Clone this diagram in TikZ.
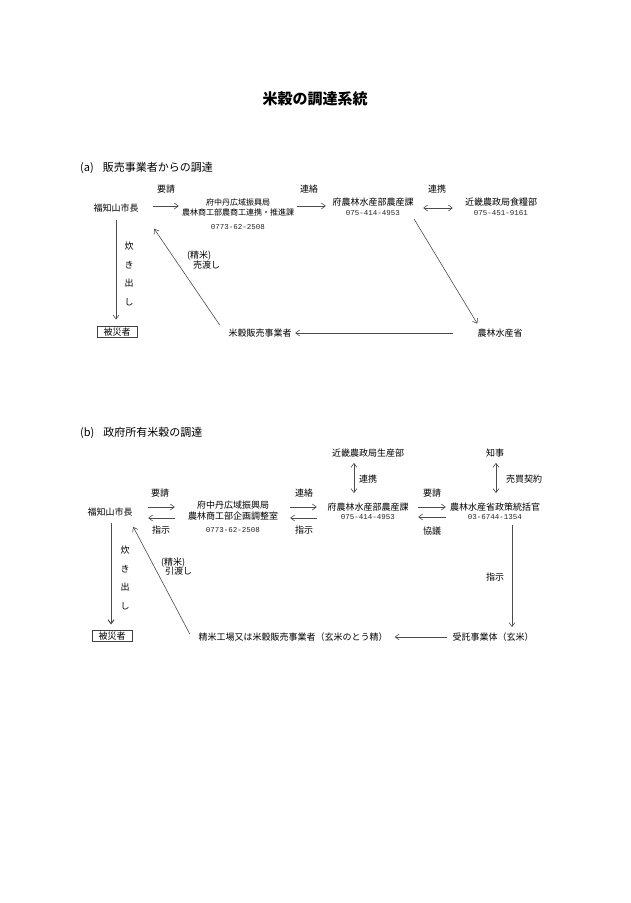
\documentclass[tikz,border=0pt]{standalone}
\usepackage{fontspec}
\setmainfont{Noto Sans CJK JP}
\newfontfamily\telfont{Liberation Mono}
\usetikzlibrary{arrows.meta}
\tikzset{
  lbl/.style={font=\fontsize{9}{11}\selectfont, inner sep=0pt, align=center, text=black},
  lblsm/.style={font=\fontsize{8}{10}\selectfont, inner sep=0pt, align=center, text=black},
  tel/.style={font=\telfont\fontsize{7.5}{9}\selectfont, inner sep=0pt, text=black!85},
  head/.style={font=\fontsize{11}{13}\selectfont, inner sep=0pt, anchor=west},
  vert/.style={font=\fontsize{9}{18.5}\selectfont, inner sep=0pt, align=center},
  arr/.style={-{Straight Barb[length=4pt,width=6pt]}, draw=black!70, line width=0.6pt},
  darr/.style={{Straight Barb[length=4pt,width=6pt]}-{Straight Barb[length=4pt,width=6pt]}, draw=black!70, line width=0.6pt},
  boxed/.style={draw=black!75, line width=0.7pt, inner xsep=6.5pt, inner ysep=1.5pt, font=\fontsize{9}{11}\selectfont}
}
\begin{document}
\begin{tikzpicture}[x=1pt,y=-1pt]
\useasboundingbox (0,0) rectangle (630,903);
\fill[white] (0,0) rectangle (630,903);

\node[font=\fontsize{15}{17}\selectfont\bfseries, inner sep=0pt] (title) at (315,99) {米穀の調達系統};

% ---------------- (a)
\node[head] (headA) at (80,168) {(a)\hspace{9pt}販売事業者からの調達};
\node[lbl] (reqA) at (166,189) {要請};
\node[lbl] (mayorA) at (116,208) {福知山市長};
\node[lblsm, font=\fontsize{8}{10}\selectfont] (fuchuA) at (238,207) {府中丹広域振興局\\農林商工部農商工連携・推進課};
\node[tel] (telFuA) at (238,227) {0773-62-2508};
\node[lbl] (contactA) at (309,189) {連絡};
\node[lbl] (pnA) at (373,202) {府農林水産部農産課};
\node[tel] (telPnA) at (373,213) {075-414-4953};
\node[lbl] (cooperA) at (437,189) {連携};
\node[lbl] (kinkiA) at (501,202) {近畿農政局食糧部};
\node[tel] (telKinA) at (501,213) {075-451-9161};
\node[lbl] (maffA) at (500,333) {農林水産省};
\node[lbl] (dealerA) at (260,333) {米穀販売事業者};
\node[boxed] (victimA) at (117,332) {被災者};
\node[vert] (cookA) at (129,274) {炊\\き\\出\\し};
\node[lbl, anchor=west] (riceA1) at (187,256) {(精米)};
\node[lbl, anchor=west] (riceA2) at (193,265) {売渡し};

\draw[arr, shorten <=14.5pt, shorten >=3pt] ([yshift=2pt]mayorA.east) -- ([yshift=2pt]mayorA.east -| fuchuA.west);
\draw[arr, shorten <=3pt, shorten >=6.5pt] ([yshift=1pt]fuchuA.east) -- ([yshift=1pt]fuchuA.east -| pnA.west);
\draw[darr, shorten <=9.5pt, shorten >=12pt] ([yshift=-6pt]pnA.east) -- ([yshift=-6pt]pnA.east -| kinkiA.west);
\draw[arr] ([xshift=14pt,yshift=-3.5pt]telPnA.south east) -- ([yshift=5pt]maffA.north west);
\draw[arr, shorten <=24.5pt, shorten >=3.5pt] (maffA.west) -- (maffA.west -| dealerA.east);
\draw[arr] ([xshift=-8.5pt,yshift=3.5pt]dealerA.north west) -- ([xshift=15.5pt,yshift=-16.5pt]mayorA.south east);
\draw[arr, shorten <=7.5pt, shorten >=6.5pt] (mayorA.south) -- (mayorA.south |- victimA.north);

% ---------------- (b)
\node[head] (headB) at (80,433) {(b)\hspace{9pt}政府所有米穀の調達};
\node[lbl] (kinkiB) at (368,453) {近畿農政局生産部};
\node[lbl] (chijiB) at (495,453) {知事};
\node[lbl] (cooperB) at (368,479) {連携};
\node[lbl] (contractB) at (524,479) {売買契約};
\node[lbl] (reqB1) at (160,493) {要請};
\node[lbl] (instrB1) at (161,530) {指示};
\node[lbl] (mayorB) at (110,512) {福知山市長};
\node[lbl] (fuchuB) at (233,510.5) {府中丹広域振興局\\農林商工部企画調整室};
\node[tel] (telFuB) at (233,530) {0773-62-2508};
\node[lbl] (contactB) at (304,493) {連絡};
\node[lbl] (instrB2) at (304,530) {指示};
\node[lbl] (pnB) at (368,507) {府農林水産部農産課};
\node[tel] (telPnB) at (368,517) {075-414-4953};
\node[lbl] (reqB2) at (432,493) {要請};
\node[lbl] (consultB) at (432,531) {協議};
\node[lbl] (maffB) at (495,507) {農林水産省政策統括官};
\node[tel] (telMaffB) at (495,517) {03-6744-1354};
\node[lbl] (instrB3) at (495,577) {指示};
\node[lbl] (trustB) at (493,637) {受託事業体（玄米）};
\node[lbl] (millB) at (293,637) {精米工場又は米穀販売事業者（玄米のとう精）};
\node[lbl, anchor=west] (riceB1) at (161,563) {(精米)};
\node[lbl, anchor=west] (riceB2) at (165,571) {引渡し};
\node[vert] (cookB) at (125,578) {炊\\き\\出\\し};
\node[boxed] (victimB) at (112,636) {被災者};

\draw[arr, shorten <=15.5pt, shorten >=13pt] ([yshift=5pt]mayorB.east) -- ([yshift=5pt]mayorB.east -| fuchuB.west);
\draw[arr, shorten <=13pt, shorten >=15.5pt] ([yshift=-6pt]mayorB.east -| fuchuB.west) -- ([yshift=-6pt]mayorB.east);
\draw[arr, shorten <=12pt, shorten >=10.5pt] ([yshift=3.5pt]fuchuB.east) -- ([yshift=3.5pt]fuchuB.east -| pnB.west);
\draw[arr, shorten <=10.5pt, shorten >=12pt] ([yshift=-7.5pt]fuchuB.east -| pnB.west) -- ([yshift=-7.5pt]fuchuB.east);
\draw[arr, shorten <=9.5pt, shorten >=4pt] (pnB.east) -- (pnB.east -| maffB.west);
\draw[arr, shorten <=4pt, shorten >=9.5pt] ([yshift=-10pt]pnB.east -| maffB.west) -- ([yshift=-10pt]pnB.east);
\draw[darr, shorten <=5.5pt, shorten >=9.5pt] ([xshift=-14pt]kinkiB.south) -- ([xshift=-14pt]kinkiB.south |- pnB.north);
\draw[darr, shorten <=5.5pt, shorten >=9.5pt] ([xshift=1pt]chijiB.south) -- ([xshift=1pt]chijiB.south |- maffB.north);
\draw[arr, shorten <=13.5pt, shorten >=5.5pt] ([xshift=17pt]maffB.south) -- ([xshift=17pt]maffB.south |- trustB.north);
\draw[arr, shorten <=5pt, shorten >=7pt] (trustB.west) -- (trustB.west -| millB.east);
\draw[arr] ([xshift=-8.5pt,yshift=3pt]millB.west) -- ([xshift=0.5pt,yshift=-10.5pt]mayorB.south east);
\draw[arr, line width=1pt, shorten <=6.5pt, shorten >=5.5pt] ([xshift=1pt]mayorB.south) -- ([xshift=1pt]mayorB.south |- victimB.north);
\end{tikzpicture}
\end{document}
